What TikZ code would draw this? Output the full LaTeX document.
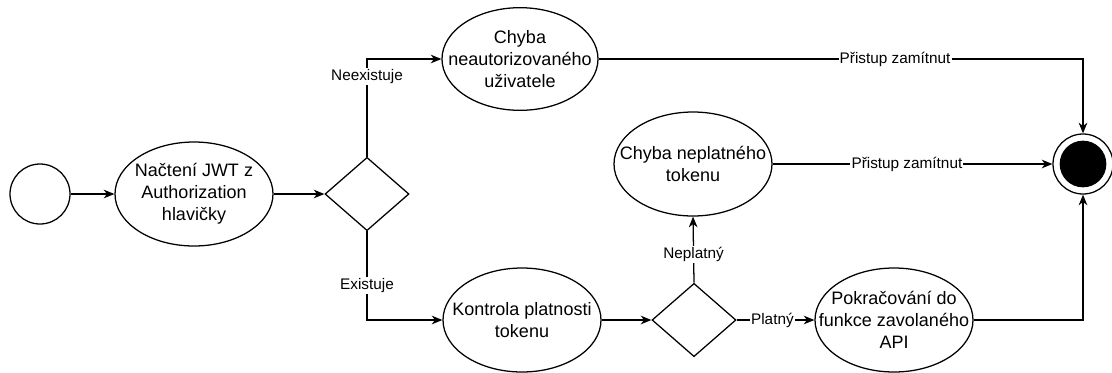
\documentclass[tikz,border=0pt]{standalone}
\usepackage{fontspec}
\setmainfont{Liberation Sans}
\usetikzlibrary{shapes.geometric,arrows.meta}

\tikzset{
  px/.style={x=0.75pt,y=-0.75pt},
  state/.style={draw, ellipse, line width=0.95pt, inner sep=0pt,
                minimum width=118.5pt, minimum height=78pt},
  txt/.style={align=center, inner sep=0pt,
              font=\fontsize{13.5pt}{16.5pt}\selectfont},
  choice/.style={draw, diamond, line width=0.95pt, inner sep=0pt,
                 minimum width=63pt, minimum height=55pt},
  flow/.style={line width=0.95pt,
               -{Stealth[length=8pt,width=6.5pt,inset=2.5pt]}},
  lbl/.style={fill=white, inner sep=0.8pt,
              font=\fontsize{11.5pt}{13pt}\selectfont}
}

\begin{document}
\begin{tikzpicture}[px]
\useasboundingbox (0,0) rectangle (1112,372);

% initial and final states
\node[draw, circle, line width=0.95pt, minimum size=45pt, inner sep=0pt] (start) at (40,194) {};
\node[draw, circle, line width=0.95pt, minimum size=45pt, inner sep=0pt] (end) at (1083,164) {};
\node[circle, fill=black, minimum size=35pt, inner sep=0pt] (endcore) at (end) {};

% actions
\node[state] (load) at (194,194) {};
\node[txt] (load-t) at (load) {Načtení JWT z\\Authorization\\hlavičky};

\node[state, minimum width=117pt, minimum height=77pt] (noauth) at (520,59) {};
\node[txt] (noauth-t) at (noauth) {Chyba\\neautorizovaného\\uživatele};

\node[state] (badtok) at (693,164) {};
\node[txt] (badtok-t) at (badtok) {Chyba neplatného\\tokenu};

\node[state] (check) at (522,320) {};
\node[txt] (check-t) at (check) {Kontrola platnosti\\tokenu};

\node[state] (api) at (894,320) {};
\node[txt] (api-t) at (api) {Pokračování do\\funkce zavolaného\\API};

% decisions
\node[choice] (dec1) at (367,194) {};
\node[choice] (dec2) at (694,320) {};

% transitions
\draw[flow] (start) -- (load);
\draw[flow] (load) -- (dec1);
\draw[flow] (dec1.north) |- node[lbl, pos=0.41] {Neexistuje} (noauth.west);
\draw[flow] (dec1.south) |- node[lbl, pos=0.305] {Existuje} (check.west);
\draw[flow] (check) -- (dec2);
\draw[flow] (dec2.north) -- node[lbl, pos=0.43] {Neplatný} (badtok.south);
\draw[flow] (dec2.east) -- node[lbl, pos=0.46] {Platný} (api.west);
\draw[flow] (noauth.east) -| node[lbl, pos=0.306] {Přistup zamítnut} (end.north);
\draw[flow] (badtok.east) -- node[lbl, pos=0.48] {Přistup zamítnut} (end.west);
\draw[flow] (api.east) -| (end.south);
\end{tikzpicture}
\end{document}
